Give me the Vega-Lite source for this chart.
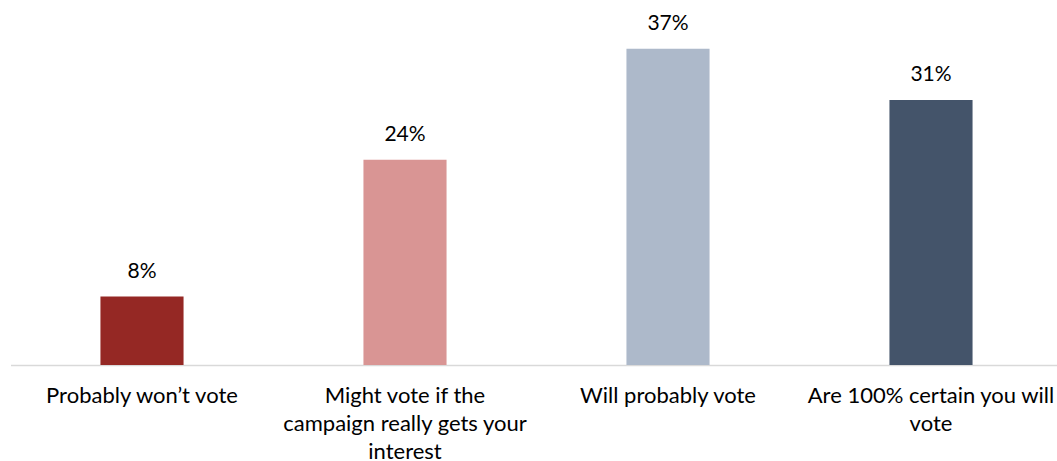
{
  "$schema": "https://vega.github.io/schema/vega-lite/v6.json",
  "autosize": "none",
  "padding": {"left": 10.5, "top": 23, "right": 0, "bottom": 96},
  "width": 1046.5,
  "height": 342,
  "background": "white",
  "config": {"view": {"stroke": null}, "font": "Lato"},
  "data": {"values": [
    {"cat": "Probably won’t vote", "value": 0.08},
    {"cat": "Might vote if the campaign really gets your interest", "value": 0.24},
    {"cat": "Will probably vote", "value": 0.37},
    {"cat": "Are 100% certain you will vote", "value": 0.31}
  ]},
  "encoding": {
    "x": {"field": "cat", "type": "nominal", "sort": null,
      "scale": {"range": [0, 1052], "paddingInner": 0.684, "paddingOuter": 0.342},
      "axis": {"title": null, "labelAngle": 0, "ticks": false, "domainColor": "#d9d9d9", "domainWidth": 1.5,
        "labelFont": "Lato", "labelFontSize": 22, "labelColor": "#000000", "labelPadding": 20, "labelLineHeight": 28, "labelLimit": 0,
        "labelExpr": "split(datum.value == 'Probably won’t vote' ? 'Probably won’t vote' : datum.value == 'Will probably vote' ? 'Will probably vote' : datum.value == 'Are 100% certain you will vote' ? 'Are 100% certain you will|vote' : 'Might vote if the|campaign really gets your|interest', '|')"}},
    "y": {"field": "value", "type": "quantitative", "scale": {"domain": [0, 0.4]}, "axis": null}
  },
  "layer": [
    {"mark": {"type": "bar"},
     "encoding": {"color": {"field": "cat", "type": "nominal", "sort": null, "legend": null,
       "scale": {"range": ["#952824", "#D99594", "#ADB9CA", "#44546A"]}}}},
    {"mark": {"type": "text", "baseline": "middle", "dy": -25, "fontSize": 21, "font": "Lato", "color": "#000000"},
     "encoding": {"text": {"field": "value", "type": "quantitative", "format": ".0%"}}}
  ]
}
